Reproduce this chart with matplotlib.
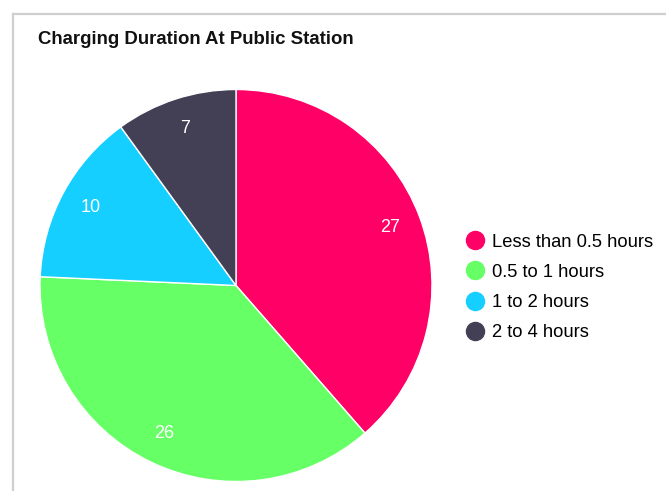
import matplotlib
matplotlib.use("Agg")
import matplotlib.pyplot as plt
from matplotlib.lines import Line2D

# data
labels = ["Less than 0.5 hours", "0.5 to 1 hours", "1 to 2 hours", "2 to 4 hours"]
values = [27, 26, 10, 7]
colors = ["#FF0066", "#66FF66", "#14CFFF", "#433F55"]

plt.rcParams['font.family'] = ['Liberation Sans', 'DejaVu Sans']

W, H = 666, 491
fig = plt.figure(figsize=(W / 100, H / 100), dpi=100)

# container border (top and left edges visible)
fig.add_artist(Line2D([12.5 / W, 1], [1 - 13.5 / H, 1 - 13.5 / H], transform=fig.transFigure,
                      color="#cfcfcf", linewidth=1.6))
fig.add_artist(Line2D([12.5 / W, 12.5 / W], [0, 1 - 13.5 / H], transform=fig.transFigure,
                      color="#cfcfcf", linewidth=1.6))

fig.text(38 / W, 1 - 39.5 / H, "Charging Duration At Public Station", fontsize=13.4,
         fontweight="bold", ha="left", va="center", color="#111111")

cx, cy, r = 236, 285.5, 196
ax = fig.add_axes([(cx - r) / W, (H - cy - r) / H, 2 * r / W, 2 * r / H])
wedges, texts = ax.pie(values, colors=colors, startangle=90, counterclock=False,
                       labels=[str(v) for v in values], labeldistance=0.84,
                       wedgeprops=dict(edgecolor="white", linewidth=1))
for t in texts:
    t.set_color("white")
    t.set_fontsize(13)
    t.set_ha("center")
    t.set_va("center")
ax.set_xlim(-1, 1)
ax.set_ylim(-1, 1)
ax.set_aspect("equal")
ax.axis("off")

handles = [Line2D([], [], marker="o", linestyle="", markersize=13, markerfacecolor=c,
                  markeredgecolor=c) for c in colors]
fig.legend(handles, labels, loc="center left", bbox_to_anchor=(459 / W, 1 - 287.5 / H),
           frameon=False, fontsize=13.2, handletextpad=0.4, labelspacing=0.72,
           handlelength=1.0, borderaxespad=0)

fig.savefig("out.png", dpi=100)
